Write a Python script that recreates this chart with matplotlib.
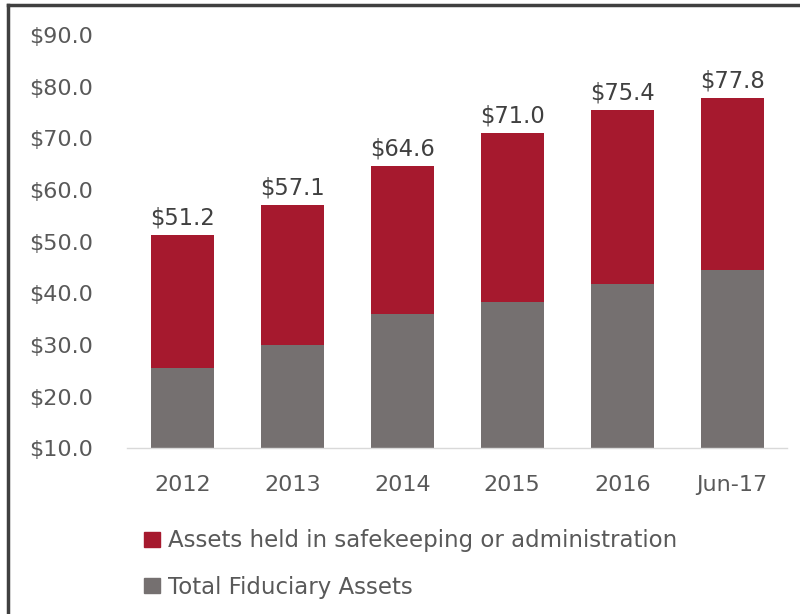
import matplotlib
matplotlib.use("Agg")
import matplotlib.pyplot as plt
from matplotlib.lines import Line2D
from matplotlib.patches import Patch

categories = ["2012", "2013", "2014", "2015", "2016", "Jun-17"]
fiduciary = [25.6, 30.0, 35.9, 38.3, 41.7, 44.6]
totals = [51.2, 57.1, 64.6, 71.0, 75.4, 77.8]
safekeeping = [t - f for t, f in zip(totals, fiduciary)]
total_labels = ["$51.2", "$57.1", "$64.6", "$71.0", "$75.4", "$77.8"]
yticks = [10, 20, 30, 40, 50, 60, 70, 80, 90]

red = "#A6192E"
gray = "#757070"
txt = "#595959"

plt.rcParams['font.family'] = ['DejaVu Sans']

fig = plt.figure(figsize=(8, 6.14), dpi=100)
ax = fig.add_axes([0.159, 0.270, 0.825, 0.673])

x = list(range(len(categories)))
ax.bar(x, fiduciary, width=0.57, color=gray, label="Total Fiduciary Assets", zorder=2)
ax.bar(x, safekeeping, bottom=fiduciary, width=0.57, color=red,
       label="Assets held in safekeeping or administration", zorder=2)

for xi, t, lab in zip(x, totals, total_labels):
    ax.annotate(lab, (xi, t), xytext=(0, 4), textcoords="offset points",
                ha="center", va="bottom", fontsize=16.3, color="#404040")

ax.set_xlim(-0.5, 5.5)
ax.set_ylim(10, 90)
ax.set_yticks(yticks)
ax.set_yticklabels([f"${v:.1f}" for v in yticks])
ax.set_xticks(x)
ax.set_xticklabels(categories)
ax.tick_params(axis='both', length=0, labelsize=16, colors=txt)
ax.tick_params(axis='x', pad=19)
ax.tick_params(axis='y', pad=24.5)
for s in ["top", "right", "left"]:
    ax.spines[s].set_visible(False)
ax.spines["bottom"].set_color("#D9D9D9")
ax.spines["bottom"].set_linewidth(1)

handles = [Patch(color=red), Patch(color=gray)]
labels = ["Assets held in safekeeping or administration", "Total Fiduciary Assets"]
fig.legend(handles, labels, loc="upper left", bbox_to_anchor=(0.18, 0.138),
           frameon=False, fontsize=16.5, labelcolor=txt, handlelength=0.7,
           handleheight=0.65, handletextpad=0.35, labelspacing=1.02, borderaxespad=0,
           borderpad=0, bbox_transform=fig.transFigure)

# frame lines (top and left)
fig.add_artist(Line2D([8/800, 8/800], [0, 1 - 5/614], color="#404040", lw=2.5,
                      transform=fig.transFigure))
fig.add_artist(Line2D([8/800, 1.0], [1 - 5/614, 1 - 5/614], color="#404040", lw=2.5,
                      transform=fig.transFigure))

fig.savefig("out.png", dpi=100)
